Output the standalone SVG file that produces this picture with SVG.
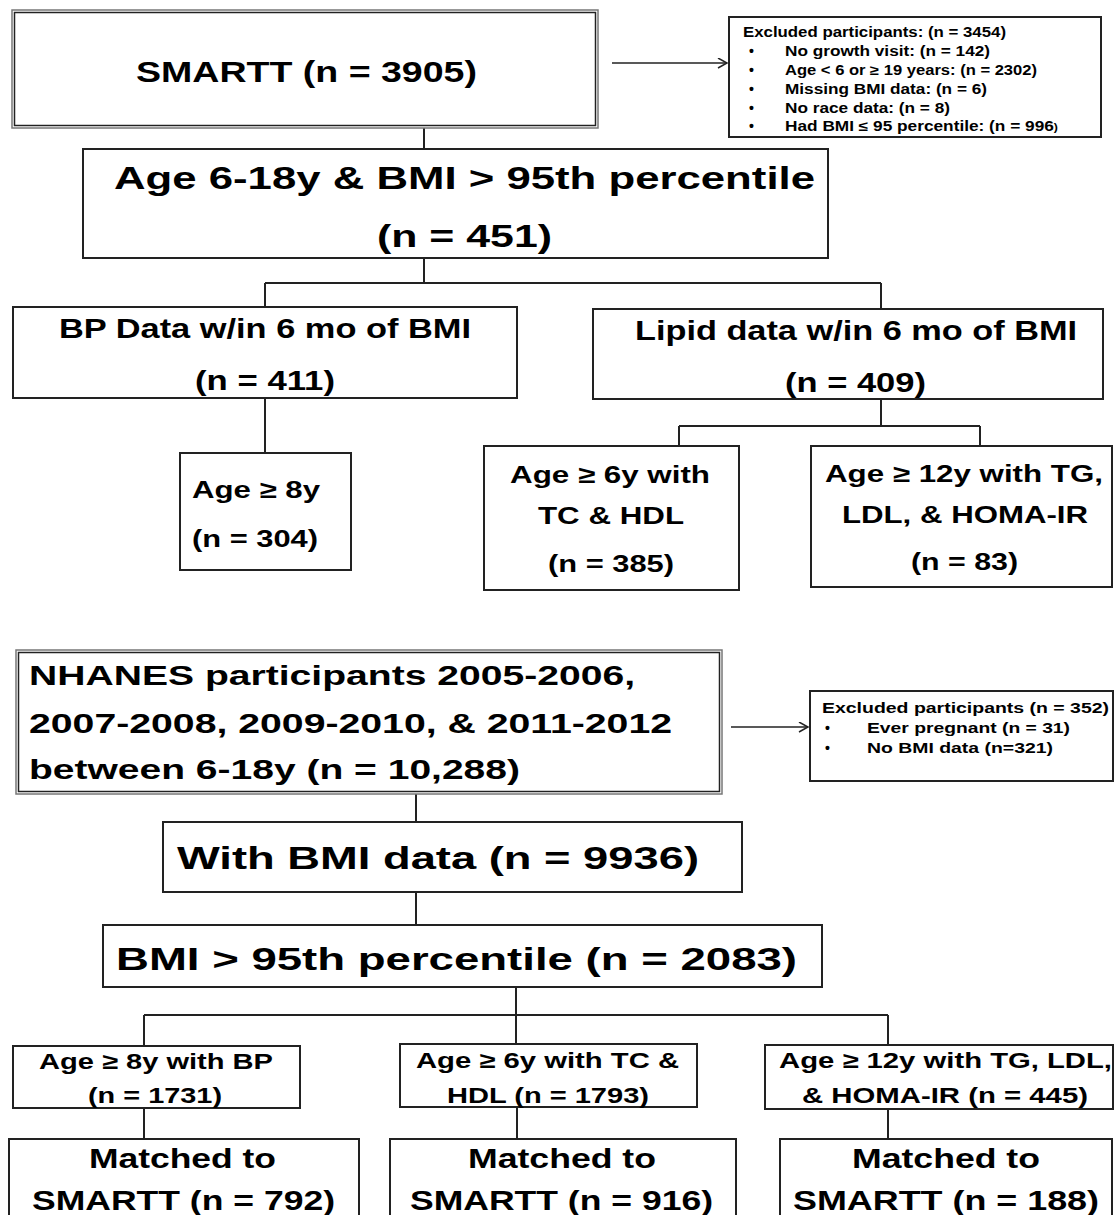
<svg xmlns="http://www.w3.org/2000/svg" width="1115" height="1215" viewBox="0 0 1115 1215">
<style>
.box{fill:#fff;stroke:#222;stroke-width:2}
.dbo{fill:#fff;stroke:#777;stroke-width:1.5}
.dbi{fill:none;stroke:#222;stroke-width:1.5}
.t{font-family:"Liberation Sans",Arial,sans-serif;font-weight:bold;fill:#000}
.ln{fill:none;stroke:#222;stroke-width:2}
.ar{fill:none;stroke:#222;stroke-width:1.5}
</style>
<defs>
<marker id="arr" markerWidth="12" markerHeight="12" refX="10" refY="5" orient="auto" markerUnits="userSpaceOnUse">
<path d="M1,0 L10,5 L1,10" fill="none" stroke="#222" stroke-width="1.5"/>
</marker>
</defs>
<rect width="1115" height="1215" fill="#fff"/>

<g id="connectors">
<path class="ln" d="M424,128 V149"/>
<path class="ln" d="M424,258 V283 M265,283 H881 M265,283 V307 M881,283 V309"/>
<path class="ln" d="M265,398 V453"/>
<path class="ln" d="M881,399 V426 M679,426 H980 M679,426 V446 M980,426 V446"/>
<path class="ar" d="M612,63 H727" marker-end="url(#arr)"/>
<path class="ar" d="M731,727 H808" marker-end="url(#arr)"/>
<path class="ln" d="M416,794 V822"/>
<path class="ln" d="M416,892 V925"/>
<path class="ln" d="M516,987 V1015 M144,1015 H888 M144,1015 V1046 M516,1015 V1044 M888,1015 V1045"/>
<path class="ln" d="M144,1108 V1139 M517,1107 V1139 M888,1109 V1139"/>
</g>

<g id="smartt">
<rect class="dbo" x="12" y="10" width="586" height="118"/>
<rect class="dbi" x="14.5" y="12.5" width="581" height="113"/>
<text class="t" x="136" y="82" font-size="30" textLength="341" lengthAdjust="spacingAndGlyphs">SMARTT (n = 3905)</text>
</g>

<g id="excluded1">
<rect class="box" x="729" y="17" width="372" height="120"/>
<text class="t" font-size="14" x="743" y="37" textLength="263" lengthAdjust="spacingAndGlyphs">Excluded participants: (n = 3454)</text>
<text class="t" font-size="14" x="749" y="56">•</text>
<text class="t" font-size="14" x="785" y="56" textLength="205" lengthAdjust="spacingAndGlyphs">No growth visit: (n = 142)</text>
<text class="t" font-size="14" x="749" y="75">•</text>
<text class="t" font-size="14" x="785" y="75" textLength="252" lengthAdjust="spacingAndGlyphs">Age &lt; 6 or ≥ 19 years:  (n = 2302)</text>
<text class="t" font-size="14" x="749" y="94">•</text>
<text class="t" font-size="14" x="785" y="94" textLength="202" lengthAdjust="spacingAndGlyphs">Missing BMI data: (n = 6)</text>
<text class="t" font-size="14" x="749" y="113">•</text>
<text class="t" font-size="14" x="785" y="113" textLength="165" lengthAdjust="spacingAndGlyphs">No race data: (n = 8)</text>
<text class="t" font-size="14" x="749" y="131">•</text>
<text class="t" font-size="14" x="785" y="131" textLength="273" lengthAdjust="spacingAndGlyphs">Had BMI ≤ 95 percentile: (n = 996<tspan font-size="10">)</tspan></text>
</g>

<g id="age618">
<rect class="box" x="83" y="149" width="745" height="109"/>
<text class="t" x="114" y="189" font-size="32" textLength="701" lengthAdjust="spacingAndGlyphs">Age 6-18y &amp; BMI &gt; 95th percentile</text>
<text class="t" x="377" y="247" font-size="32" textLength="175" lengthAdjust="spacingAndGlyphs">(n = 451)</text>
</g>

<g id="bpdata">
<rect class="box" x="13" y="307" width="504" height="91"/>
<text class="t" x="59" y="338" font-size="27" textLength="412" lengthAdjust="spacingAndGlyphs">BP Data w/in 6 mo of BMI</text>
<text class="t" x="195" y="390" font-size="27" textLength="140" lengthAdjust="spacingAndGlyphs">(n = 411)</text>
</g>

<g id="lipiddata">
<rect class="box" x="593" y="309" width="510" height="90"/>
<text class="t" x="635" y="340" font-size="27" textLength="442" lengthAdjust="spacingAndGlyphs">Lipid data w/in 6 mo of BMI</text>
<text class="t" x="785" y="392" font-size="27" textLength="141" lengthAdjust="spacingAndGlyphs">(n = 409)</text>
</g>

<g id="age8">
<rect class="box" x="180" y="453" width="171" height="117"/>
<text class="t" x="192" y="498" font-size="24" textLength="128" lengthAdjust="spacingAndGlyphs">Age ≥ 8y</text>
<text class="t" x="192" y="547" font-size="24" textLength="126" lengthAdjust="spacingAndGlyphs">(n = 304)</text>
</g>

<g id="age6tc">
<rect class="box" x="484" y="446" width="255" height="144"/>
<text class="t" x="510" y="483" font-size="24" textLength="200" lengthAdjust="spacingAndGlyphs">Age ≥ 6y with</text>
<text class="t" x="538" y="524" font-size="24" textLength="146" lengthAdjust="spacingAndGlyphs">TC &amp; HDL</text>
<text class="t" x="548" y="572" font-size="24" textLength="126" lengthAdjust="spacingAndGlyphs">(n = 385)</text>
</g>

<g id="age12tg">
<rect class="box" x="811" y="446" width="301" height="141"/>
<text class="t" x="825" y="482" font-size="24" textLength="278" lengthAdjust="spacingAndGlyphs">Age ≥ 12y with TG,</text>
<text class="t" x="842" y="523" font-size="24" textLength="246" lengthAdjust="spacingAndGlyphs">LDL, &amp; HOMA-IR</text>
<text class="t" x="911" y="570" font-size="24" textLength="107" lengthAdjust="spacingAndGlyphs">(n = 83)</text>
</g>

<g id="nhanes">
<rect class="dbo" x="16" y="650" width="706" height="144"/>
<rect class="dbi" x="18.5" y="652.5" width="701" height="139"/>
<text class="t" x="29" y="685" font-size="28" textLength="606" lengthAdjust="spacingAndGlyphs">NHANES participants 2005-2006,</text>
<text class="t" x="29" y="733" font-size="28" textLength="643" lengthAdjust="spacingAndGlyphs">2007-2008, 2009-2010, &amp; 2011-2012</text>
<text class="t" x="29" y="779" font-size="28" textLength="491" lengthAdjust="spacingAndGlyphs">between 6-18y (n = 10,288)</text>
</g>

<g id="excluded2">
<rect class="box" x="810" y="691" width="303" height="90"/>
<text class="t" font-size="14" x="822" y="713" textLength="287" lengthAdjust="spacingAndGlyphs">Excluded participants (n = 352)</text>
<text class="t" font-size="14" x="825" y="733">•</text>
<text class="t" font-size="14" x="867" y="733" textLength="203" lengthAdjust="spacingAndGlyphs">Ever pregnant (n = 31)</text>
<text class="t" font-size="14" x="825" y="753">•</text>
<text class="t" font-size="14" x="867" y="753" textLength="186" lengthAdjust="spacingAndGlyphs">No BMI data (n=321)</text>
</g>

<g id="withbmi">
<rect class="box" x="163" y="822" width="579" height="70"/>
<text class="t" x="177" y="869" font-size="31" textLength="522" lengthAdjust="spacingAndGlyphs">With BMI data (n = 9936)</text>
</g>

<g id="bmi95">
<rect class="box" x="103" y="925" width="719" height="62"/>
<text class="t" x="116" y="970" font-size="32" textLength="681" lengthAdjust="spacingAndGlyphs">BMI &gt; 95th percentile (n = 2083)</text>
</g>

<g id="n_age8bp">
<rect class="box" x="13" y="1046" width="287" height="62"/>
<text class="t" x="39" y="1069" font-size="22" textLength="234" lengthAdjust="spacingAndGlyphs">Age ≥ 8y with BP</text>
<text class="t" x="88" y="1103" font-size="22" textLength="134" lengthAdjust="spacingAndGlyphs">(n = 1731)</text>
</g>

<g id="n_age6tc">
<rect class="box" x="400" y="1044" width="297" height="63"/>
<text class="t" x="416" y="1068" font-size="22" textLength="263" lengthAdjust="spacingAndGlyphs">Age ≥ 6y with TC &amp;</text>
<text class="t" x="447" y="1103" font-size="22" textLength="202" lengthAdjust="spacingAndGlyphs">HDL (n = 1793)</text>
</g>

<g id="n_age12tg">
<rect class="box" x="765" y="1045" width="348" height="64"/>
<text class="t" x="779" y="1068" font-size="22" textLength="333" lengthAdjust="spacingAndGlyphs">Age ≥ 12y with TG, LDL,</text>
<text class="t" x="802" y="1103" font-size="22" textLength="286" lengthAdjust="spacingAndGlyphs">&amp; HOMA-IR (n = 445)</text>
</g>

<g id="matched792">
<rect class="box" x="9" y="1139" width="350" height="90"/>
<text class="t" x="89" y="1168" font-size="27" textLength="187" lengthAdjust="spacingAndGlyphs">Matched to</text>
<text class="t" x="32" y="1210" font-size="28" textLength="303" lengthAdjust="spacingAndGlyphs">SMARTT (n = 792)</text>
</g>

<g id="matched916">
<rect class="box" x="390" y="1139" width="346" height="90"/>
<text class="t" x="468" y="1168" font-size="27" textLength="188" lengthAdjust="spacingAndGlyphs">Matched to</text>
<text class="t" x="410" y="1210" font-size="28" textLength="303" lengthAdjust="spacingAndGlyphs">SMARTT (n = 916)</text>
</g>

<g id="matched188">
<rect class="box" x="780" y="1139" width="332" height="90"/>
<text class="t" x="852" y="1168" font-size="27" textLength="188" lengthAdjust="spacingAndGlyphs">Matched to</text>
<text class="t" x="793" y="1210" font-size="28" textLength="306" lengthAdjust="spacingAndGlyphs">SMARTT (n = 188)</text>
</g>
</svg>
